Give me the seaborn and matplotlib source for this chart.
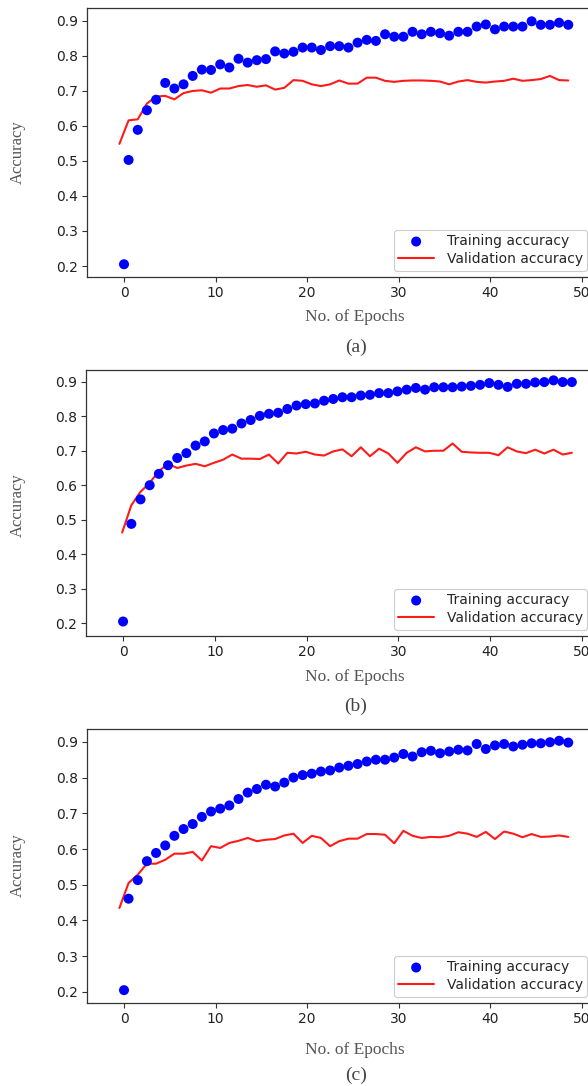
import numpy as np
import pandas as pd
import matplotlib
matplotlib.use("Agg")
import matplotlib.pyplot as plt
import seaborn as sns

# ---------------- data ----------------
epochs = np.arange(50)

train_a = [0.205, 0.503, 0.589, 0.645, 0.675, 0.723, 0.707, 0.719, 0.743, 0.761,
           0.760, 0.776, 0.767, 0.792, 0.781, 0.788, 0.791, 0.813, 0.807, 0.812,
           0.824, 0.824, 0.817, 0.828, 0.828, 0.824, 0.838, 0.846, 0.843, 0.862,
           0.855, 0.855, 0.869, 0.862, 0.869, 0.865, 0.858, 0.869, 0.869, 0.884,
           0.890, 0.876, 0.884, 0.884, 0.884, 0.899, 0.889, 0.889, 0.895, 0.889]
val_a = [0.549, 0.616, 0.619, 0.664, 0.684, 0.686, 0.676, 0.694, 0.700, 0.702,
         0.695, 0.707, 0.707, 0.714, 0.717, 0.712, 0.716, 0.704, 0.709, 0.731,
         0.729, 0.719, 0.714, 0.719, 0.730, 0.721, 0.721, 0.738, 0.738, 0.729,
         0.726, 0.729, 0.730, 0.730, 0.729, 0.727, 0.719, 0.727, 0.731, 0.726,
         0.724, 0.727, 0.729, 0.735, 0.729, 0.731, 0.734, 0.743, 0.731, 0.730]

train_b = [0.205, 0.488, 0.559, 0.600, 0.633, 0.658, 0.679, 0.693, 0.715, 0.727,
           0.750, 0.760, 0.764, 0.779, 0.789, 0.801, 0.807, 0.810, 0.821, 0.831,
           0.835, 0.837, 0.845, 0.850, 0.855, 0.855, 0.860, 0.862, 0.867, 0.867,
           0.872, 0.877, 0.882, 0.877, 0.884, 0.884, 0.884, 0.886, 0.888, 0.891,
           0.896, 0.891, 0.885, 0.894, 0.894, 0.898, 0.899, 0.904, 0.899, 0.899]
val_b = [0.463, 0.542, 0.581, 0.607, 0.641, 0.662, 0.650, 0.657, 0.662, 0.655,
         0.665, 0.674, 0.689, 0.677, 0.677, 0.676, 0.689, 0.663, 0.694, 0.692,
         0.697, 0.689, 0.686, 0.698, 0.704, 0.684, 0.710, 0.684, 0.706, 0.692,
         0.665, 0.694, 0.710, 0.698, 0.700, 0.700, 0.721, 0.697, 0.695, 0.694,
         0.694, 0.687, 0.710, 0.698, 0.693, 0.703, 0.692, 0.703, 0.689, 0.694]

train_c = [0.205, 0.461, 0.513, 0.566, 0.589, 0.610, 0.637, 0.656, 0.670, 0.690,
           0.705, 0.713, 0.722, 0.740, 0.758, 0.768, 0.780, 0.775, 0.786, 0.800,
           0.807, 0.811, 0.817, 0.820, 0.828, 0.833, 0.838, 0.845, 0.850, 0.850,
           0.856, 0.866, 0.859, 0.871, 0.875, 0.868, 0.873, 0.878, 0.876, 0.894,
           0.880, 0.890, 0.894, 0.887, 0.892, 0.896, 0.896, 0.899, 0.903, 0.898]
val_c = [0.435, 0.505, 0.528, 0.559, 0.559, 0.570, 0.587, 0.587, 0.592, 0.568,
         0.608, 0.603, 0.617, 0.623, 0.631, 0.622, 0.626, 0.628, 0.638, 0.643,
         0.617, 0.637, 0.631, 0.608, 0.622, 0.629, 0.629, 0.642, 0.642, 0.640,
         0.616, 0.651, 0.637, 0.631, 0.634, 0.633, 0.637, 0.647, 0.643, 0.634,
         0.648, 0.628, 0.649, 0.643, 0.633, 0.642, 0.634, 0.635, 0.638, 0.634]

captions = ["(a)", "(b)", "(c)"]
yticks = [0.2, 0.3, 0.4, 0.5, 0.6, 0.7, 0.8, 0.9]
xticks = [0, 10, 20, 30, 40, 50]
series_labels = ["Training accuracy", "Validation accuracy"]

# ---------------- style ----------------
sns.set_theme(style="ticks")
plt.rcParams["font.family"] = ["DejaVu Sans"]
plt.rcParams.update({
    "axes.edgecolor": "#333333",
    "axes.linewidth": 0.9,
    "xtick.color": "#333333",
    "ytick.color": "#333333",
    "xtick.labelcolor": "#222222",
    "ytick.labelcolor": "#222222",
    "xtick.major.size": 3.5,
    "ytick.major.size": 3.5,
    "xtick.major.width": 0.8,
    "ytick.major.width": 0.8,
    "xtick.direction": "out",
    "ytick.direction": "out",
})

W, H = 588, 1086
fig = plt.figure(figsize=(W / 100, H / 100), dpi=100)

# pixel-layout (left, top, right, bottom in px)
panels = [
    dict(train=train_a, val=val_a, shift=-0.5, box=(87, 8, 600, 277),
         ylim=(0.1686, 0.937), leg_top=230, ylab_y=152, xlab_y=317, cap_y=347),
    dict(train=train_b, val=val_b, shift=-0.1, box=(86, 370, 600, 636),
         ylim=(0.163, 0.934), leg_top=589, ylab_y=505, xlab_y=677, cap_y=706),
    dict(train=train_c, val=val_c, shift=-0.5, box=(87, 729, 600, 1003),
         ylim=(0.169, 0.936), leg_top=956, ylab_y=865, xlab_y=1050, cap_y=1075),
]

serif = ["Liberation Serif", "DejaVu Serif"]

for p, cap in zip(panels, captions):
    l, t, r, b = p["box"]
    ax = fig.add_axes([l / W, (H - b) / H, (r - l) / W, (b - t) / H])
    x_train = np.where(epochs == 0, 0.0, epochs + p["shift"])
    x_val = epochs + p["shift"]
    df_t = pd.DataFrame({"epoch": x_train, "acc": p["train"]})
    df_v = pd.DataFrame({"epoch": x_val, "acc": p["val"]})
    sns.scatterplot(data=df_t, x="epoch", y="acc", color="#0000ff", s=52,
                    edgecolor="none", linewidth=0, ax=ax, label=series_labels[0],
                    zorder=3)
    sns.lineplot(data=df_v, x="epoch", y="acc", color="#ff1a1a", linewidth=1.5,
                 ax=ax, label=series_labels[1], sort=False, zorder=2)
    ax.set_xlim(-4.04, (600 - 124) / 9.16)
    ax.set_ylim(*p["ylim"])
    ax.set_xticks(xticks)
    ax.set_yticks(yticks)
    ax.set_xticklabels([str(v) for v in xticks], fontsize=10)
    ax.set_yticklabels([f"{v:.1f}" for v in yticks], fontsize=10)
    ax.set_xlabel("")
    ax.set_ylabel("")
    ax.tick_params(axis="both", pad=3)
    leg = ax.legend(loc="upper right", bbox_to_anchor=(587 / W, (H - p["leg_top"]) / H),
                    bbox_transform=fig.transFigure, borderaxespad=0, fontsize=10,
                    frameon=True, fancybox=True, framealpha=1, edgecolor="#cccccc",
                    handlelength=2.6, labelspacing=0.3, borderpad=0.3,
                    handletextpad=0.9, markerscale=1.0)
    leg.get_frame().set_linewidth(0.8)

    fig.text(18 / W, (H - p["ylab_y"]) / H, "Accuracy", rotation=90,
             ha="center", va="center", fontsize=12, color="#555555", family=serif)
    fig.text(355 / W, (H - p["xlab_y"]) / H, "No. of Epochs",
             ha="center", va="center", fontsize=12.5, color="#555555", family=serif)
    fig.text(356 / W, (H - p["cap_y"]) / H, cap,
             ha="center", va="center", fontsize=14, color="#444444", family=serif)

fig.savefig("out.png", dpi=100, facecolor="white")
